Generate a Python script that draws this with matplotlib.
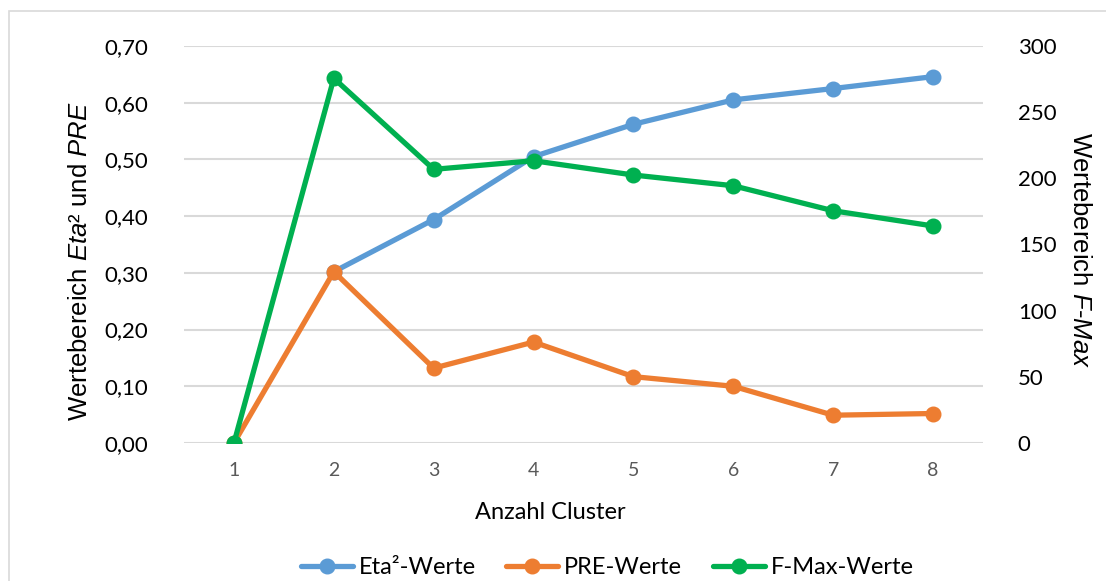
import numpy as np
import matplotlib
matplotlib.use("Agg")
import matplotlib.pyplot as plt
from matplotlib.patches import Rectangle

plt.rcParams['mathtext.fontset'] = 'custom'
plt.rcParams['mathtext.rm'] = 'Liberation Sans'
plt.rcParams['mathtext.it'] = 'Liberation Sans:italic'

clusters = [1, 2, 3, 4, 5, 6, 7, 8]
eta2 = [np.nan, 0.302, 0.394, 0.505, 0.562, 0.605, 0.625, 0.646]
pre = [0.0, 0.302, 0.132, 0.178, 0.117, 0.100, 0.049, 0.052]
fmax = [0.0, 275.6, 206.8, 213.3, 202.5, 194.4, 175.5, 164.0]

left_ticks = [0.0, 0.1, 0.2, 0.3, 0.4, 0.5, 0.6, 0.7]
right_ticks = [0, 50, 100, 150, 200, 250, 300]

BLUE = '#5B9BD5'
ORANGE = '#ED7D31'
GREEN = '#00B050'
TICK_FONT = 'Lato'

W, H = 1106, 581
fig = plt.figure(figsize=(W / 100, H / 100), dpi=100)
fig.patches.append(Rectangle((9 / W, -0.05), 1.2, 1 - 11 / H + 0.05,
                             transform=fig.transFigure, fill=False,
                             edgecolor='#D9D9D9', linewidth=1.2))

ax = fig.add_axes([184 / W, 1 - 443 / H, (983 - 184) / W, (443 - 46) / H])
ax2 = ax.twinx()

lw, ms = 3.8, 10.5
l1, = ax.plot(clusters, eta2, color=BLUE, lw=lw, marker='o', ms=ms,
              label='Eta²-Werte', solid_capstyle='round')
l2, = ax.plot(clusters, pre, color=ORANGE, lw=lw, marker='o', ms=ms,
              label='PRE-Werte', solid_capstyle='round')
l3, = ax2.plot(clusters, fmax, color=GREEN, lw=lw, marker='o', ms=ms,
               label='F-Max-Werte', solid_capstyle='round')

ax.set_xlim(0.5, 8.5)
ax.set_ylim(0, 0.7)
ax2.set_ylim(0, 300)

ax.set_yticks(left_ticks)
ax.set_yticklabels([f'{v:.2f}'.replace('.', ',') for v in left_ticks],
                   fontname=TICK_FONT, fontsize=16, color='#000000')
ax2.set_yticks(right_ticks)
ax2.set_yticklabels([str(v) for v in right_ticks],
                    fontname=TICK_FONT, fontsize=16, color='#000000')
ax.set_xticks(clusters)
ax.set_xticklabels([str(c) for c in clusters], fontname=TICK_FONT,
                   fontsize=14, color='#595959')

ax.tick_params(axis='y', length=0, pad=26)
ax2.tick_params(axis='y', length=0, pad=25)
ax.tick_params(axis='x', length=0, pad=14)

ax.grid(axis='y', color='#D9D9D9', lw=1.5)
ax.set_axisbelow(True)
for a in (ax, ax2):
    for s in a.spines.values():
        s.set_visible(False)

ax.set_xlabel('Anzahl Cluster', fontname=TICK_FONT, fontsize=17, labelpad=16)
ax.xaxis.label.set_x(0.458)
ax.set_ylabel(r'Wertebereich $\mathit{Eta}$² und $\mathit{PRE}$',
              fontname='Liberation Sans', fontsize=18.5, labelpad=9)
ax.yaxis.label.set_y(0.458)
ax2.set_ylabel(r'Wertebereich $\mathit{F}$-$\mathit{Max}$',
               fontname='Liberation Sans', fontsize=18.5, rotation=270,
               labelpad=26)
ax2.yaxis.label.set_y(0.486)

fig.legend(handles=[l1, l2, l3], loc='center', bbox_to_anchor=(0.549, 13 / H),
           ncol=3, frameon=False, handlelength=2.2, columnspacing=1.3,
           handletextpad=0.25, prop={'family': TICK_FONT, 'size': 17})

fig.savefig('out.png', dpi=100)
